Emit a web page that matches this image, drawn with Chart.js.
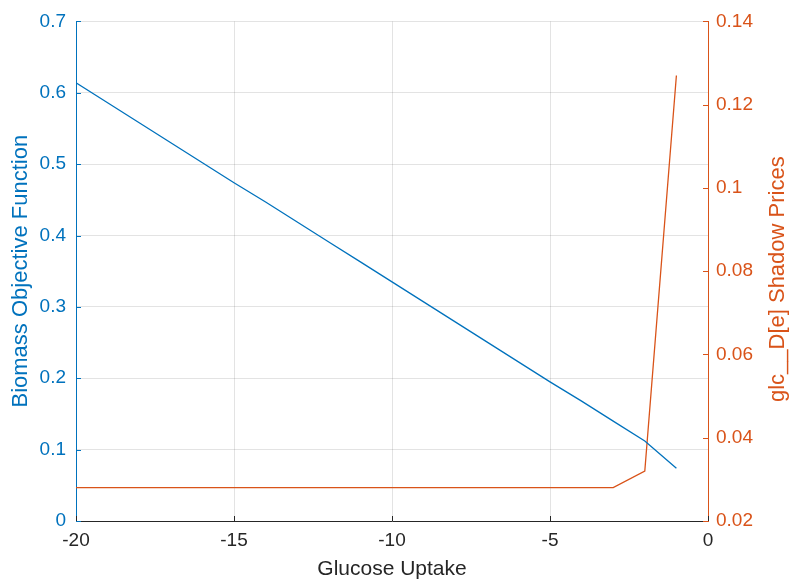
<!DOCTYPE html>
<html>
<head>
<meta charset="utf-8">
<script src="https://cdn.jsdelivr.net/npm/chart.js@4.4.0/dist/chart.umd.min.js"></script>
<style>
  body { margin: 0; background: #fff; }
  canvas { display: block; }
</style>
</head>
<body>
<canvas id="c" width="790" height="581"></canvas>
<script>
// glucose uptake steps and the two responses
var glucose = [-20, -19, -18, -17, -16, -15, -14, -13, -12, -11, -10, -9, -8, -7, -6, -5, -4, -3, -2, -1];
var biomass = [0.614, 0.586, 0.558, 0.530, 0.502, 0.474, 0.447, 0.419, 0.391, 0.363,
               0.335, 0.307, 0.279, 0.251, 0.223, 0.195, 0.168, 0.140, 0.112, 0.074];
var shadowPrice = [0.028, 0.028, 0.028, 0.028, 0.028, 0.028, 0.028, 0.028, 0.028, 0.028,
                   0.028, 0.028, 0.028, 0.028, 0.028, 0.028, 0.028, 0.028, 0.032, 0.127];

var xTicks = [-20, -15, -10, -5, 0];
var leftTicks = [0, 0.1, 0.2, 0.3, 0.4, 0.5, 0.6, 0.7];
var rightTicks = [0.02, 0.04, 0.06, 0.08, 0.1, 0.12, 0.14];

var blue = '#0072BD';
var orange = '#D95319';
var dark = '#262626';
var gridCol = 'rgba(38,38,38,0.13)';
var fam = '"Liberation Sans", Arial, Helvetica, sans-serif';
var rightTitle = 'glc__D[e] Shadow Prices';

function pts(ys) {
  return glucose.map(function (x, i) { return { x: x, y: ys[i] }; });
}
function fixTicks(list) {
  return function (scale) {
    scale.ticks = list.map(function (v) { return { value: v }; });
  };
}
function short(v) { return String(+Number(v).toFixed(3)); }

// matlab style: short tick marks pointing into the plot, and right label read bottom-up
var innerTicks = {
  id: 'innerTicks',
  afterDraw: function (chart) {
    var c = chart.ctx, a = chart.chartArea, len = 5;
    c.save();
    c.lineWidth = 1;
    var s = chart.scales.x;
    c.strokeStyle = dark;
    s.ticks.forEach(function (t) {
      var px = Math.round(s.getPixelForValue(t.value)) + 0.5;
      c.beginPath(); c.moveTo(px, a.bottom); c.lineTo(px, a.bottom - len); c.stroke();
    });
    s = chart.scales.y;
    c.strokeStyle = blue;
    s.ticks.forEach(function (t) {
      var py = Math.round(s.getPixelForValue(t.value)) + 0.5;
      c.beginPath(); c.moveTo(a.left, py); c.lineTo(a.left + len, py); c.stroke();
    });
    s = chart.scales.y1;
    c.strokeStyle = orange;
    s.ticks.forEach(function (t) {
      var py = Math.round(s.getPixelForValue(t.value)) + 0.5;
      c.beginPath(); c.moveTo(a.right, py); c.lineTo(a.right - len, py); c.stroke();
    });

    c.translate(s.right - 12, (a.top + a.bottom) / 2 + 8);
    c.rotate(-Math.PI / 2);
    c.fillStyle = orange;
    c.font = '22px ' + fam;
    c.textAlign = 'center';
    c.textBaseline = 'middle';
    c.fillText(rightTitle, 0, 0);
    c.restore();
  }
};

new Chart(document.getElementById('c'), {
  type: 'line',
  data: {
    datasets: [{
      label: 'Biomass Objective Function',
      data: pts(biomass),
      borderColor: blue,
      borderWidth: 1.3,
      pointRadius: 0,
      tension: 0,
      yAxisID: 'y'
    }, {
      label: rightTitle,
      data: pts(shadowPrice),
      borderColor: orange,
      borderWidth: 1.3,
      pointRadius: 0,
      tension: 0,
      yAxisID: 'y1'
    }]
  },
  options: {
    responsive: false,
    animation: false,
    layout: { padding: { top: 19, left: 0, right: 0, bottom: 0 } },
    plugins: { legend: { display: false }, tooltip: { enabled: false } },
    scales: {
      x: {
        type: 'linear',
        min: -20, max: 0,
        afterBuildTicks: fixTicks(xTicks),
        afterFit: function (s) { s.height = 60; },
        grid: { color: gridCol, drawTicks: false },
        border: { color: dark, width: 1 },
        ticks: { color: dark, padding: 8, font: { family: fam, size: 19 } },
        title: {
          display: true, text: 'Glucose Uptake', color: dark,
          padding: { top: 0, bottom: 1 },
          font: { family: fam, size: 21, lineHeight: 1 }
        }
      },
      y: {
        position: 'left',
        min: 0, max: 0.7,
        afterBuildTicks: fixTicks(leftTicks),
        afterFit: function (s) { s.width = 76; },
        grid: { color: gridCol, drawTicks: false },
        border: { color: blue, width: 1 },
        ticks: { color: blue, padding: 10, callback: short, font: { family: fam, size: 19 } },
        title: {
          display: true, text: 'Biomass Objective Function', color: blue,
          padding: { top: 10, bottom: 0 },
          font: { family: fam, size: 22, lineHeight: 1 }
        }
      },
      y1: {
        position: 'right',
        min: 0.02, max: 0.14,
        afterBuildTicks: fixTicks(rightTicks),
        afterFit: function (s) { s.width = 82; },
        grid: { display: false, drawTicks: false },
        border: { color: orange, width: 1 },
        ticks: { color: orange, padding: 8, callback: short, font: { family: fam, size: 19 } }
      }
    }
  },
  plugins: [innerTicks]
});
</script>
</body>
</html>
